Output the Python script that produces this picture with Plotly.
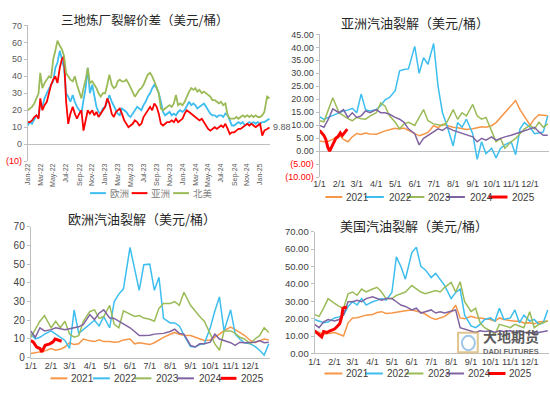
import plotly.graph_objects as go

W, H = 550, 395


def fx(px):
    return px / W


def fy(py):
    return 1 - py / H


# ---------------- Top-left: 三地炼厂裂解价差 (readings on days 1 / 11 / 21 of each month) ----------------
tl_month_list = [(y, m) for y in (2022, 2023, 2024) for m in range(1, 13)] + [(2025, 1)]
tl_dates = [f"{y}-{m:02d}-{d:02d}" for (y, m) in tl_month_list for d in (1, 11, 21)] + ["2025-02-03", "2025-02-14"]

tl_europe = [11, 13, 12, 15, 17, 16, 24, 22, 27, 30, 33, 35, 37, 45, 48, 55, 50, 45, 30, 28, 25, 29, 25, 22,
             20, 18, 26, 33, 45, 30, 35, 28, 22, 19, 18, 21,
             22, 25, 29, 25, 22, 20, 18, 17, 21, 20, 19, 17, 16, 18, 20, 22, 21, 20, 23, 25, 28, 30, 33, 35,
             33, 30, 25, 19, 17, 18, 19, 17, 18, 17, 19, 20,
             19, 20, 22, 25, 23, 24, 23, 21, 22, 23, 24, 22, 20, 18, 17, 17, 16, 17, 17, 16, 18, 17, 14, 11,
             11, 12, 13, 12, 13, 11, 12, 13, 12, 13, 12, 13,
             12, 13, 13, 14, 15]
tl_asia = [13, 13, 14, 16, 17, 15, 27, 20, 23, 25, 30, 35, 38, 40, 36, 45, 50, 52, 25, 12, 18, 22, 18, 15,
           18, 20, 8, 15, 20, 18, 20, 17, 19, 16, 18, 20,
           22, 27, 24, 18, 16, 19, 20, 21, 18, 14, 12, 10, 11, 12, 14, 13, 11, 12, 16, 18, 20, 22, 20, 24,
           22, 18, 12, 11, 12, 13, 13, 14, 13, 15, 13, 14,
           15, 18, 20, 19, 18, 17, 16, 15, 14, 15, 13, 11, 9, 8, 9, 10, 9, 10, 11, 10, 12, 9, 6, 7,
           7, 8, 9, 9, 10, 11, 12, 11, 12, 11, 10, 11,
           12, 5, 8, 9, 9.88]
tl_namerica = [20, 21, 22, 24, 27, 30, 42, 33, 36, 38, 40, 39, 50, 55, 61, 58, 56, 52, 42, 40, 38, 37, 40, 35,
               30, 27, 33, 38, 45, 36, 37, 35, 33, 30, 28, 30,
               30, 35, 41, 35, 33, 34, 37, 38, 37, 37, 38, 36, 33, 30, 28, 30, 32, 33, 35, 38, 41, 42, 40, 37,
               33, 30, 21, 20, 21, 22, 23, 22, 24, 29, 23, 24,
               23, 25, 28, 31, 33, 32, 33, 31, 32, 30, 31, 30, 29, 28, 26, 26, 25, 24, 25, 23, 24, 17, 15, 15,
               15, 16, 15, 16, 17, 16, 17, 16, 17, 16, 17, 16,
               16, 17, 19, 28, 27]
tl_names = ["欧洲", "亚洲", "北美"]

# ---------------- Seasonal panels: weekly-ish readings (days 1/8/15/22 of each month + 12/29) ----------------
season_dates = [f"2021-{m:02d}-{d:02d}" for m in range(1, 13) for d in (1, 8, 15, 22)] + ["2021-12-29"]
years = ["2021", "2022", "2023", "2024", "2025"]

# 亚洲汽油裂解
asia_2021 = [3.9, 3.6, 3.8, 4.5, 6.2, 4.5, 3.6, 5.5, 6.8, 6.4, 7.0, 6.6, 6.5, 7.2, 7.8, 8.2, 8.8, 8.5, 8.9, 8.0,
             6.8, 5.9, 6.5, 7.2, 9.8, 9.0, 10.3, 9.8, 9.2, 9.0, 8.6, 8.3, 8.6, 9.0, 9.4, 9.2, 9.8, 11.0, 13.0, 15.0,
             17.5, 19.5, 16.0, 13.5, 10.0, 12.5, 14.0, 13.8, 13.6]
asia_2022 = [13.3, 12.2, 13.0, 13.8, 14.8, 15.5, 15.8, 16.5, 14.8, 22.0, 16.0, 15.5, 16.0, 17.5, 19.8, 20.7,
             23.3, 31.0, 31.5, 31.7, 40.4, 30.0, 36.0, 33.5, 41.5, 25.0, 14.8, 10.0, 2.0, 11.0, 9.2, 12.3,
             6.7, -3.2, 3.6, -1.0, 1.1, -2.6, 1.0, 2.4, 3.6, -1.4, 8.6, 11.0, 9.2, 6.7, 7.0, 7.4, 13.6]
asia_2023 = [11.7, 11.3, 16.0, 20.6, 14.8, 13.5, 12.5, 11.7, 13.0, 12.5, 12.3, 13.5, 14.8, 18.6, 17.3, 13.6,
             11.1, 8.6, 10.5, 11.1, 9.9, 13.0, 16.0, 11.7, 10.5, 10.2, 9.9, 11.1, 16.0, 12.3, 14.8, 13.6,
             18.0, 13.6, 12.3, 13.0, 7.4, 3.6, 4.9, 1.1, 3.6, 4.9, 6.7, 8.6, 9.9, 8.6, 11.1, 9.2, 10.5]
asia_2024 = [9.9, 9.2, 12.3, 16.3, 14.8, 16.0, 13.0, 14.8, 13.0, 13.6, 15.5, 14.8, 16.0, 14.8, 14.8, 14.2,
             13.0, 12.3, 11.1, 8.6, 6.7, 2.4, 4.9, 6.1, 7.4, 8.6, 8.0, 9.2, 8.0, 7.4, 6.7, 6.1,
             5.5, 3.6, 4.9, 4.2, 5.5, 4.2, 4.9, 5.5, 6.1, 6.7, 7.4, 8.0, 8.6, 9.2, 7.4, 6.1, 6.1]
asia_2025_dates = ["01-01", "01-04", "01-08", "01-11", "01-14", "01-17", "01-20", "01-23", "01-27", "01-30",
                   "02-03", "02-06", "02-10", "02-14"]
asia_2025 = [8.0, 7.0, 6.0, 4.5, 1.5, 0.0, 1.5, 3.5, 5.0, 5.5, 7.0, 6.0, 7.5, 8.5]

# 欧洲汽油裂解
eu_2021 = [2.2, 2.5, 2.9, 3.5, 4.9, 4.0, 4.5, 5.7, 8.0, 7.0, 7.4, 10.0, 9.0, 8.6, 9.5, 8.6, 8.6, 8.3, 8.5, 9.5,
           10.0, 7.4, 8.0, 7.4, 7.0, 8.0, 9.5, 10.9, 12.5, 13.5, 12.5, 12.0, 11.8, 11.0, 10.0, 9.2,
           9.5, 11.0, 12.6, 14.5, 16.4, 15.0, 13.5, 12.0, 9.2, 8.0, 9.0, 10.0, 9.5]
eu_2022 = [12.6, 10.0, 10.9, 12.6, 14.3, 12.6, 10.9, 9.2, 5.0, 25.5, 13.0, 15.0, 18.0, 20.0, 17.0, 22.0,
           16.0, 30.0, 34.0, 36.8, 59.0, 48.0, 36.0, 49.7, 50.0, 36.0, 43.0, 21.0, 18.6, 18.6, 17.0, 12.0,
           6.0, 5.7, 7.0, 7.4, 16.0, 25.0, 32.5, 14.3, 25.6, 12.6, 10.0, 8.0, 7.4, 6.0, 4.0, 1.4, 7.4]
eu_2023 = [10.9, 15.0, 19.5, 22.5, 16.0, 19.5, 16.0, 19.5, 12.6, 11.0, 11.8, 19.5, 24.7, 25.6, 21.0, 22.0,
           28.0, 17.8, 16.0, 25.0, 23.0, 22.0, 22.5, 21.2, 20.5, 19.5, 26.4, 29.0, 29.0, 30.0, 28.0, 35.0,
           28.0, 24.7, 22.0, 19.5, 12.6, 7.4, 4.0, 14.3, 14.3, 13.0, 10.9, 10.0, 7.4, 10.0, 11.8, 16.0, 13.5]
eu_2024 = [14.3, 10.9, 16.0, 14.3, 15.0, 16.0, 15.5, 15.0, 15.5, 16.0, 16.5, 17.8, 23.0, 20.4, 23.8, 25.6,
           21.2, 21.0, 19.5, 18.0, 16.0, 14.0, 11.8, 11.8, 12.0, 12.6, 12.6, 13.0, 14.0, 15.2, 13.0, 12.6,
           6.6, 5.7, 7.4, 7.4, 8.3, 12.6, 10.0, 9.2, 8.0, 6.6, 8.3, 8.0, 8.3, 8.3, 9.2, 8.0, 8.3]
eu_2025_dates = ["01-01", "01-05", "01-10", "01-15", "01-18", "01-23", "01-30", "02-04", "02-07", "02-12", "02-17"]
eu_2025 = [9.2, 8.3, 5.7, 4.9, 3.1, 6.6, 7.4, 8.5, 10.0, 9.2, 8.8]

# 美国汽油裂解
us_2021 = [13.0, 12.0, 11.0, 11.5, 12.0, 11.0, 10.0, 17.6, 20.4, 20.5, 21.3, 22.0, 22.3, 23.5, 24.0, 23.0,
           23.2, 23.5, 24.0, 24.5, 25.0, 24.5, 23.7, 22.5, 20.4, 19.5, 20.5, 21.3, 24.0, 27.8, 20.4, 20.0,
           21.3, 20.5, 20.4, 20.0, 19.5, 18.5, 20.4, 19.5, 19.0, 18.5, 18.6, 17.5, 17.6, 17.0, 18.0, 18.5, 18.6]
us_2022 = [19.5, 18.5, 17.6, 18.0, 20.4, 21.0, 22.0, 27.0, 29.7, 27.8, 31.5, 27.8, 29.7, 30.5, 31.5, 30.6,
           35.0, 55.5, 50.0, 42.7, 58.0, 61.0, 50.0, 48.0, 43.6, 46.0, 42.7, 39.0, 31.5, 35.0, 37.0, 22.0,
           15.8, 14.8, 16.7, 19.5, 20.4, 18.6, 26.0, 19.5, 20.4, 25.0, 17.6, 22.0, 18.6, 19.5, 16.7, 17.6, 25.0]
us_2023 = [22.3, 21.3, 26.0, 31.5, 28.8, 27.0, 26.0, 34.3, 35.3, 33.4, 37.0, 35.3, 37.0, 38.0, 35.3, 31.5,
           31.5, 33.4, 34.3, 35.3, 39.0, 37.0, 35.3, 34.3, 35.3, 36.2, 35.3, 38.0, 40.8, 35.3, 41.2, 29.7,
           24.0, 26.0, 17.6, 14.8, 13.0, 11.0, 16.7, 15.8, 14.8, 16.7, 15.8, 14.8, 24.0, 14.8, 16.7, 17.6, 18.6]
us_2024 = [16.7, 14.8, 18.2, 19.5, 18.6, 19.5, 22.3, 29.7, 29.7, 30.6, 29.7, 31.5, 32.5, 31.5, 30.6, 31.5,
           31.5, 29.7, 27.8, 27.0, 25.0, 26.0, 23.2, 24.0, 25.0, 23.2, 24.0, 23.2, 24.0, 25.0, 14.8, 13.9,
           13.0, 12.0, 13.0, 12.6, 13.0, 12.0, 13.0, 12.6, 13.0, 12.0, 13.0, 12.0, 12.0, 11.5, 12.0, 12.6, 13.0]
us_2025_dates = ["01-01", "01-04", "01-08", "01-12", "01-15", "01-20", "01-25", "02-01", "02-05", "02-09",
                 "02-12", "02-14", "02-17", "02-20"]
us_2025 = [13.0, 12.0, 11.0, 9.5, 12.5, 12.0, 13.0, 14.0, 15.5, 17.0, 21.0, 26.0, 26.5, 26.0]

# ---------------- styles ----------------
C_ORANGE, C_BLUE, C_GREEN, C_PURPLE, C_RED = "#F79646", "#3DBEEF", "#9BBB59", "#8064A2", "#FF0000"
year_colors = [C_ORANGE, C_BLUE, C_GREEN, C_PURPLE, C_RED]
year_widths = [1.5, 1.5, 1.5, 1.5, 3]
FONT = "Liberation Sans, Noto Sans CJK SC, sans-serif"
CJK = "Noto Sans CJK SC, sans-serif"

fig = go.Figure()


def line(x, y, color, width, xa, ya, name):
    fig.add_trace(go.Scatter(x=x, y=y, mode="lines", name=name,
                             line=dict(color=color, width=width),
                             xaxis=xa, yaxis=ya, showlegend=False, hoverinfo="skip"))


# top-left
for vals, col, nm in zip([tl_europe, tl_asia, tl_namerica], [C_BLUE, C_RED, C_GREEN], tl_names):
    line(tl_dates, vals, col, 1.8, "x", "y", nm)

# seasonal panels
panels = [
    ("x2", "y2", [asia_2021, asia_2022, asia_2023, asia_2024], asia_2025_dates, asia_2025),
    ("x3", "y3", [eu_2021, eu_2022, eu_2023, eu_2024], eu_2025_dates, eu_2025),
    ("x4", "y4", [us_2021, us_2022, us_2023, us_2024], us_2025_dates, us_2025),
]
for xa, ya, full_years, d25, v25 in panels:
    for i, vals in enumerate(full_years):
        line(season_dates, vals, year_colors[i], year_widths[i], xa, ya, years[i])
    line(["2021-" + d for d in d25], v25, year_colors[4], year_widths[4], xa, ya, years[4])

RED_SPAN = "<span style='color:#FF0000'>{}</span>"

tl_ticks = list(range(-10, 71, 10))
tl_ticktext = [RED_SPAN.format("(10)") if v < 0 else str(v) for v in tl_ticks]
tr_ticks = list(range(-10, 46, 5))
tr_ticktext = [RED_SPAN.format(f"({abs(v):.2f})") if v < 0 else f"{v:.2f}" for v in tr_ticks]

grey = "#bfbfbf"
season_x = dict(type="date", range=["2021-01-01", "2021-12-31"], tick0="2021-01-01", dtick="M1",
                tickformat="%-m/%-d", tickangle=0, tickfont=dict(size=9, color="#404040"), showgrid=False,
                zeroline=False, ticks="")

fig.update_layout(
    width=W, height=H, margin=dict(l=0, r=0, t=0, b=0),
    paper_bgcolor="white", plot_bgcolor="white",
    font=dict(family=FONT, color="#404040"), showlegend=False,
    xaxis=dict(domain=[fx(22), fx(267)], anchor="y", type="date", range=["2022-01-01", "2025-02-17"],
               tick0="2022-01-01", dtick="M2", tickformat="%b-%y", tickangle=-90,
               tickfont=dict(size=7, color="#595959"), showline=False, showgrid=False, zeroline=False, ticks=""),
    yaxis=dict(domain=[fy(160), fy(20)], anchor="x", range=[-10, 70], tickvals=tl_ticks, ticktext=tl_ticktext,
               showline=True, linecolor=grey, ticks="outside", ticklen=3, tickcolor=grey,
               zeroline=True, zerolinecolor=grey, zerolinewidth=1, showgrid=False,
               tickfont=dict(size=9, color="#595959")),
    xaxis2=dict(domain=[fx(317), fx(549)], anchor="y2", showline=False, **season_x),
    yaxis2=dict(domain=[fy(176.4), fy(29.3)], anchor="x2", range=[-10, 45], tickvals=tr_ticks, ticktext=tr_ticktext,
                showline=True, linecolor=grey, ticks="outside", ticklen=3, tickcolor=grey,
                zeroline=True, zerolinecolor=grey, zerolinewidth=1, showgrid=False,
                tickfont=dict(size=9, color="#404040")),
    xaxis3=dict(domain=[fx(25), fx(267)], anchor="y3", showline=True, linecolor=grey, **season_x),
    yaxis3=dict(domain=[fy(362.7), fy(227.7)], anchor="x3", range=[0, 70], dtick=10, tick0=0,
                showline=True, linecolor=grey, ticks="outside", ticklen=3, tickcolor=grey,
                zeroline=False, showgrid=False, tickfont=dict(size=10, color="#404040")),
    xaxis4=dict(domain=[fx(312), fx(549)], anchor="y4", showline=True, linecolor=grey, **season_x),
    yaxis4=dict(domain=[fy(358.3), fy(232.7)], anchor="x4", range=[0, 70], dtick=10, tick0=0, tickformat=".2f",
                showline=True, linecolor=grey, ticks="outside", ticklen=3, tickcolor=grey,
                zeroline=False, showgrid=False, tickfont=dict(size=9.5, color="#404040")),
)

annotations = []
shapes = []

# titles
for text, cx, cy, size in [("三地炼厂裂解价差（美元/桶）", 140, 14, 12.5),
                           ("亚洲汽油裂解（美元/桶）", 414, 17, 13),
                           ("欧洲汽油裂解（美元/桶）", 137, 219, 13),
                           ("美国汽油裂解（美元/桶）", 412, 226, 13)]:
    annotations.append(dict(text=text, x=fx(cx), y=fy(cy), xref="paper", yref="paper",
                            xanchor="center", yanchor="middle", showarrow=False,
                            font=dict(family=CJK, size=size, color="#262626")))

# last-value label on the top-left chart
annotations.append(dict(text=f"{tl_asia[-1]:.2f}", x=tl_dates[-1], y=tl_asia[-1], xref="x", yref="y",
                        xanchor="left", yanchor="middle", xshift=2, showarrow=False,
                        font=dict(size=9, color="#595959")))


def legend_row(ypx, items, size, tcolor):
    for (col, x0, x1, label, tx, wdt) in items:
        shapes.append(dict(type="line", xref="paper", yref="paper", x0=fx(x0), x1=fx(x1), y0=fy(ypx), y1=fy(ypx),
                           line=dict(color=col, width=wdt)))
        annotations.append(dict(text=label, x=fx(tx), y=fy(ypx), xref="paper", yref="paper", xanchor="left",
                                yanchor="middle", showarrow=False, font=dict(family=FONT, size=size, color=tcolor)))


legend_row(193, [(C_BLUE, 85, 101, tl_names[0], 103, 2), (C_RED, 127, 143, tl_names[1], 145, 2),
                 (C_GREEN, 169, 185, tl_names[2], 187, 2)], 9.5, "#808080")


def year_items(xs):
    return [(year_colors[i], xs[i][0], xs[i][1], years[i], xs[i][2], 2 if i < 4 else 3) for i in range(5)]


legend_row(197, year_items([(323, 340, 342), (363, 382, 385), (405, 423, 425), (445, 464, 467), (488, 507, 510)]),
           10, "#404040")
legend_row(384, year_items([(45, 62, 64), (88, 105, 107), (130, 147, 150), (173, 190, 193), (217, 233, 236)]),
           10, "#404040")
legend_row(379, year_items([(322, 340, 342), (363, 381, 383), (404, 422, 425), (445, 463, 465), (487, 505, 507)]),
           10, "#404040")

# watermark logo
shapes.append(dict(type="rect", xref="paper", yref="paper", x0=fx(457), x1=fx(477), y0=fy(357), y1=fy(337),
                   line=dict(color="#D9B36C", width=2), opacity=0.75))
shapes.append(dict(type="circle", xref="paper", yref="paper", x0=fx(461), x1=fx(474), y0=fy(355), y1=fy(340),
                   line=dict(color="#7FB2E0", width=2), opacity=0.75))
annotations.append(dict(text="<b>大地期货</b>", x=fx(511), y=fy(340), xref="paper", yref="paper",
                        xanchor="center", yanchor="middle", showarrow=False,
                        font=dict(family=CJK, size=14, color="#5A5A5A")))
annotations.append(dict(text="<b>DADI FUTURES</b>", x=fx(511), y=fy(356), xref="paper", yref="paper",
                        xanchor="center", yanchor="middle", showarrow=False,
                        font=dict(family=FONT, size=7.5, color="#6A6A6A")))

fig.update_layout(annotations=annotations, shapes=shapes)
fig.write_html("out.html", config={"displayModeBar": False},
               post_script="document.body.style.margin='0';document.body.style.padding='0';"
                           "document.body.style.overflow='hidden';")
